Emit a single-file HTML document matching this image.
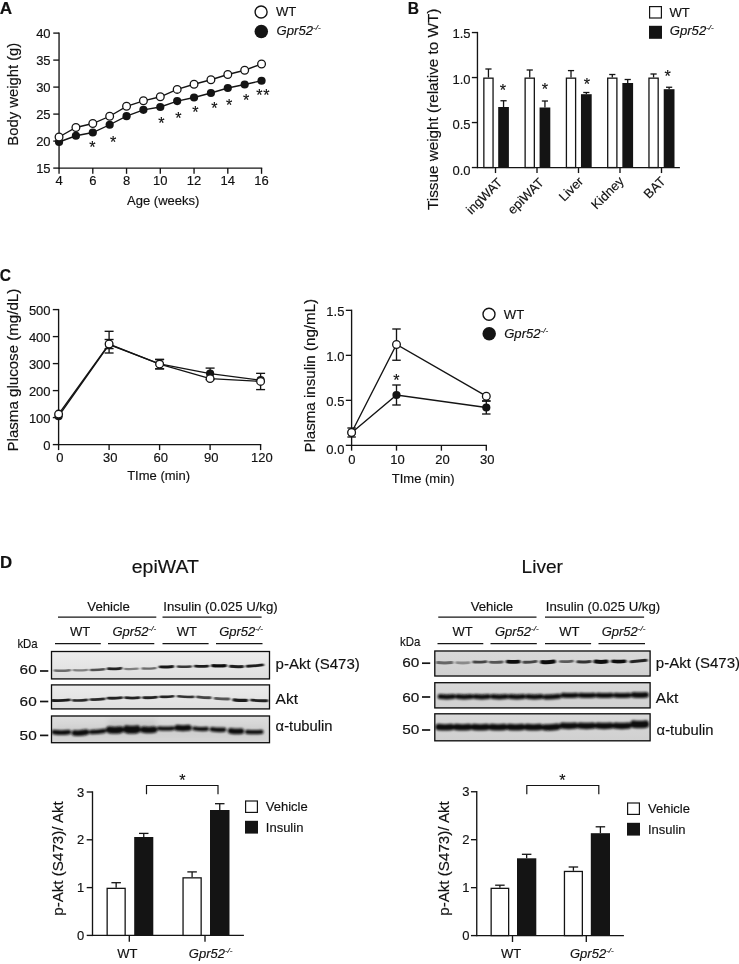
<!DOCTYPE html>
<html lang="en"><head><meta charset="utf-8"><title>Figure</title>
<style>
html,body{margin:0;padding:0;background:#fff;}
body{width:739px;height:964px;overflow:hidden;}
svg{display:block;}
svg text{font-family:"Liberation Sans",Arial,Helvetica,sans-serif;fill:#111;stroke:#111;stroke-width:0.16px;}
</style></head><body>
<svg width="739" height="964" viewBox="0 0 739 964">
<defs>
<filter id="b1" x="-20%" y="-200%" width="140%" height="500%"><feGaussianBlur stdDeviation="1.0 0.75"/></filter>
<filter id="b2" x="-20%" y="-200%" width="140%" height="500%"><feGaussianBlur stdDeviation="1.2 1.0"/></filter>
<filter id="b3" x="-20%" y="-200%" width="140%" height="500%"><feGaussianBlur stdDeviation="2.5 3"/></filter>
<linearGradient id="gE" x1="0" y1="0" x2="0" y2="1"><stop offset="0" stop-color="#ececec"/><stop offset="1" stop-color="#dedede"/></linearGradient>
<linearGradient id="gE3" x1="0" y1="0" x2="0" y2="1"><stop offset="0" stop-color="#dcdcdc"/><stop offset="1" stop-color="#d6d6d6"/></linearGradient>
<linearGradient id="gL" x1="0" y1="0" x2="0" y2="1"><stop offset="0" stop-color="#d9d9d9"/><stop offset="1" stop-color="#d0d0d0"/></linearGradient>
</defs>
<rect width="739" height="964" fill="#fff"/>

<text transform="translate(-0.3,13.5) scale(1.1,1)" font-size="15.6" font-weight="bold">A</text>
<text transform="translate(407.7,13.5) scale(1.0,1)" font-size="15.6" font-weight="bold">B</text>
<text transform="translate(-0.2,280.6) scale(1.0,1)" font-size="15.6" font-weight="bold">C</text>
<text transform="translate(-0.1,567.8) scale(1.08,1)" font-size="15.6" font-weight="bold">D</text>
<g id="panelA">
<line x1="59.05" y1="32.42" x2="59.05" y2="168.78" stroke="#141414" stroke-width="1.35" />
<line x1="59.05" y1="168.10" x2="262.23" y2="168.10" stroke="#141414" stroke-width="1.35" />
<line x1="53.25" y1="168.10" x2="59.05" y2="168.10" stroke="#141414" stroke-width="1.35" />
<text x="50.60" y="173.10" font-size="13.0" text-anchor="end" font-weight="normal" font-style="normal" >15</text>
<line x1="53.25" y1="141.10" x2="59.05" y2="141.10" stroke="#141414" stroke-width="1.35" />
<text x="50.60" y="146.10" font-size="13.0" text-anchor="end" font-weight="normal" font-style="normal" >20</text>
<line x1="53.25" y1="114.10" x2="59.05" y2="114.10" stroke="#141414" stroke-width="1.35" />
<text x="50.60" y="119.10" font-size="13.0" text-anchor="end" font-weight="normal" font-style="normal" >25</text>
<line x1="53.25" y1="87.10" x2="59.05" y2="87.10" stroke="#141414" stroke-width="1.35" />
<text x="50.60" y="92.10" font-size="13.0" text-anchor="end" font-weight="normal" font-style="normal" >30</text>
<line x1="53.25" y1="60.10" x2="59.05" y2="60.10" stroke="#141414" stroke-width="1.35" />
<text x="50.60" y="65.10" font-size="13.0" text-anchor="end" font-weight="normal" font-style="normal" >35</text>
<line x1="53.25" y1="33.10" x2="59.05" y2="33.10" stroke="#141414" stroke-width="1.35" />
<text x="50.60" y="38.10" font-size="13.0" text-anchor="end" font-weight="normal" font-style="normal" >40</text>
<line x1="59.05" y1="168.10" x2="59.05" y2="173.80" stroke="#141414" stroke-width="1.35" />
<text x="59.05" y="185.30" font-size="13.0" text-anchor="middle" font-weight="normal" font-style="normal" >4</text>
<line x1="92.80" y1="168.10" x2="92.80" y2="173.80" stroke="#141414" stroke-width="1.35" />
<text x="92.80" y="185.30" font-size="13.0" text-anchor="middle" font-weight="normal" font-style="normal" >6</text>
<line x1="126.55" y1="168.10" x2="126.55" y2="173.80" stroke="#141414" stroke-width="1.35" />
<text x="126.55" y="185.30" font-size="13.0" text-anchor="middle" font-weight="normal" font-style="normal" >8</text>
<line x1="160.30" y1="168.10" x2="160.30" y2="173.80" stroke="#141414" stroke-width="1.35" />
<text x="160.30" y="185.30" font-size="13.0" text-anchor="middle" font-weight="normal" font-style="normal" >10</text>
<line x1="194.05" y1="168.10" x2="194.05" y2="173.80" stroke="#141414" stroke-width="1.35" />
<text x="194.05" y="185.30" font-size="13.0" text-anchor="middle" font-weight="normal" font-style="normal" >12</text>
<line x1="227.80" y1="168.10" x2="227.80" y2="173.80" stroke="#141414" stroke-width="1.35" />
<text x="227.80" y="185.30" font-size="13.0" text-anchor="middle" font-weight="normal" font-style="normal" >14</text>
<line x1="261.55" y1="168.10" x2="261.55" y2="173.80" stroke="#141414" stroke-width="1.35" />
<text x="261.55" y="185.30" font-size="13.0" text-anchor="middle" font-weight="normal" font-style="normal" >16</text>
<text x="163.20" y="205.00" font-size="13" text-anchor="middle" font-weight="normal" font-style="normal" >Age (weeks)</text>
<text transform="translate(18.20,94.20) rotate(-90)" font-size="14.8" text-anchor="middle" textLength="102.9" lengthAdjust="spacingAndGlyphs">Body weight (g)</text>
<polyline points="59.05,142.00 75.92,135.75 92.80,132.50 109.67,124.75 126.55,116.20 143.43,109.80 160.30,107.00 177.18,101.10 194.05,97.50 210.93,93.00 227.80,88.00 244.68,84.50 261.55,80.75" fill="none" stroke="#141414" stroke-width="1.35"/>
<circle cx="59.05" cy="142.00" r="4.1" fill="#141414"/>
<circle cx="75.92" cy="135.75" r="4.1" fill="#141414"/>
<circle cx="92.80" cy="132.50" r="4.1" fill="#141414"/>
<circle cx="109.67" cy="124.75" r="4.1" fill="#141414"/>
<circle cx="126.55" cy="116.20" r="4.1" fill="#141414"/>
<circle cx="143.43" cy="109.80" r="4.1" fill="#141414"/>
<circle cx="160.30" cy="107.00" r="4.1" fill="#141414"/>
<circle cx="177.18" cy="101.10" r="4.1" fill="#141414"/>
<circle cx="194.05" cy="97.50" r="4.1" fill="#141414"/>
<circle cx="210.93" cy="93.00" r="4.1" fill="#141414"/>
<circle cx="227.80" cy="88.00" r="4.1" fill="#141414"/>
<circle cx="244.68" cy="84.50" r="4.1" fill="#141414"/>
<circle cx="261.55" cy="80.75" r="4.1" fill="#141414"/>
<polyline points="59.05,137.00 75.92,127.50 92.80,123.50 109.67,116.25 126.55,106.30 143.43,100.80 160.30,96.75 177.18,89.40 194.05,84.25 210.93,79.75 227.80,74.50 244.68,70.25 261.55,64.00" fill="none" stroke="#141414" stroke-width="1.35"/>
<circle cx="59.05" cy="137.00" r="3.85" fill="#fff" stroke="#141414" stroke-width="1.3"/>
<circle cx="75.92" cy="127.50" r="3.85" fill="#fff" stroke="#141414" stroke-width="1.3"/>
<circle cx="92.80" cy="123.50" r="3.85" fill="#fff" stroke="#141414" stroke-width="1.3"/>
<circle cx="109.67" cy="116.25" r="3.85" fill="#fff" stroke="#141414" stroke-width="1.3"/>
<circle cx="126.55" cy="106.30" r="3.85" fill="#fff" stroke="#141414" stroke-width="1.3"/>
<circle cx="143.43" cy="100.80" r="3.85" fill="#fff" stroke="#141414" stroke-width="1.3"/>
<circle cx="160.30" cy="96.75" r="3.85" fill="#fff" stroke="#141414" stroke-width="1.3"/>
<circle cx="177.18" cy="89.40" r="3.85" fill="#fff" stroke="#141414" stroke-width="1.3"/>
<circle cx="194.05" cy="84.25" r="3.85" fill="#fff" stroke="#141414" stroke-width="1.3"/>
<circle cx="210.93" cy="79.75" r="3.85" fill="#fff" stroke="#141414" stroke-width="1.3"/>
<circle cx="227.80" cy="74.50" r="3.85" fill="#fff" stroke="#141414" stroke-width="1.3"/>
<circle cx="244.68" cy="70.25" r="3.85" fill="#fff" stroke="#141414" stroke-width="1.3"/>
<circle cx="261.55" cy="64.00" r="3.85" fill="#fff" stroke="#141414" stroke-width="1.3"/>
<text x="92.30" y="152.90" font-size="16.2" text-anchor="middle" stroke="#111" stroke-width="0.25">*</text>
<text x="113.10" y="147.90" font-size="16.2" text-anchor="middle" stroke="#111" stroke-width="0.25">*</text>
<text x="161.40" y="129.30" font-size="16.2" text-anchor="middle" stroke="#111" stroke-width="0.25">*</text>
<text x="178.40" y="123.80" font-size="16.2" text-anchor="middle" stroke="#111" stroke-width="0.25">*</text>
<text x="195.30" y="117.80" font-size="16.2" text-anchor="middle" stroke="#111" stroke-width="0.25">*</text>
<text x="214.40" y="114.10" font-size="16.2" text-anchor="middle" stroke="#111" stroke-width="0.25">*</text>
<text x="229.20" y="110.50" font-size="16.2" text-anchor="middle" stroke="#111" stroke-width="0.25">*</text>
<text x="246.20" y="106.10" font-size="16.2" text-anchor="middle" stroke="#111" stroke-width="0.25">*</text>
<text x="259.40" y="100.90" font-size="16.2" text-anchor="middle" stroke="#111" stroke-width="0.25">*</text>
<text x="266.50" y="100.90" font-size="16.2" text-anchor="middle" stroke="#111" stroke-width="0.25">*</text>
<circle cx="261.10" cy="12.00" r="6.0" fill="#fff" stroke="#141414" stroke-width="1.4"/>
<circle cx="261.30" cy="31.50" r="6.75" fill="#141414"/>
<text x="276.00" y="16.30" font-size="13.1" text-anchor="start" font-weight="normal" font-style="normal" >WT</text>
<text x="276.60" y="34.80" font-size="13.1" text-anchor="start" font-style="italic" >Gpr52<tspan font-size="8" dy="-4.8">-/-</tspan></text>
</g>
<g id="panelB">
<line x1="477.45" y1="31.88" x2="477.45" y2="168.23" stroke="#141414" stroke-width="1.35" />
<line x1="477.45" y1="167.55" x2="679.90" y2="167.55" stroke="#141414" stroke-width="1.35" />
<line x1="471.85" y1="167.55" x2="477.45" y2="167.55" stroke="#141414" stroke-width="1.35" />
<text x="470.50" y="175.15" font-size="13.0" text-anchor="end" font-weight="normal" font-style="normal" >0.0</text>
<line x1="471.85" y1="122.55" x2="477.45" y2="122.55" stroke="#141414" stroke-width="1.35" />
<text x="470.50" y="128.65" font-size="13.0" text-anchor="end" font-weight="normal" font-style="normal" >0.5</text>
<line x1="471.85" y1="77.55" x2="477.45" y2="77.55" stroke="#141414" stroke-width="1.35" />
<text x="470.50" y="83.65" font-size="13.0" text-anchor="end" font-weight="normal" font-style="normal" >1.0</text>
<line x1="471.85" y1="32.55" x2="477.45" y2="32.55" stroke="#141414" stroke-width="1.35" />
<text x="470.50" y="38.15" font-size="13.0" text-anchor="end" font-weight="normal" font-style="normal" >1.5</text>
<text transform="translate(438.30,109.30) rotate(-90)" font-size="15.2" text-anchor="middle" textLength="201.4" lengthAdjust="spacingAndGlyphs">Tissue weight (relative to WT)</text>
<line x1="488.45" y1="69.00" x2="488.45" y2="77.50" stroke="#141414" stroke-width="1.3" />
<line x1="485.35" y1="69.00" x2="491.55" y2="69.00" stroke="#141414" stroke-width="1.3" />
<rect x="483.85" y="78.15" width="9.20" height="89.40" fill="#fff" stroke="#141414" stroke-width="1.3"/>
<line x1="503.55" y1="100.75" x2="503.55" y2="107.00" stroke="#141414" stroke-width="1.3" />
<line x1="500.45" y1="100.75" x2="506.65" y2="100.75" stroke="#141414" stroke-width="1.3" />
<rect x="498.20" y="107.00" width="10.70" height="60.55" fill="#141414"/>
<line x1="495.50" y1="167.55" x2="495.50" y2="173.05" stroke="#141414" stroke-width="1.35" />
<text transform="translate(503.10,183.35) rotate(-45)" font-size="13.0" text-anchor="end">ingWAT</text>
<text x="502.80" y="96.30" font-size="16.2" text-anchor="middle" stroke="#111" stroke-width="0.25">*</text>
<line x1="529.73" y1="70.00" x2="529.73" y2="77.50" stroke="#141414" stroke-width="1.3" />
<line x1="526.63" y1="70.00" x2="532.83" y2="70.00" stroke="#141414" stroke-width="1.3" />
<rect x="525.13" y="78.15" width="9.20" height="89.40" fill="#fff" stroke="#141414" stroke-width="1.3"/>
<line x1="544.94" y1="101.00" x2="544.94" y2="107.50" stroke="#141414" stroke-width="1.3" />
<line x1="541.84" y1="101.00" x2="548.04" y2="101.00" stroke="#141414" stroke-width="1.3" />
<rect x="539.58" y="107.50" width="10.72" height="60.05" fill="#141414"/>
<line x1="537.00" y1="167.55" x2="537.00" y2="173.05" stroke="#141414" stroke-width="1.35" />
<text transform="translate(544.60,183.35) rotate(-45)" font-size="13.0" text-anchor="end">epiWAT</text>
<text x="545.00" y="95.10" font-size="16.2" text-anchor="middle" stroke="#111" stroke-width="0.25">*</text>
<line x1="571.01" y1="70.60" x2="571.01" y2="77.50" stroke="#141414" stroke-width="1.3" />
<line x1="567.91" y1="70.60" x2="574.11" y2="70.60" stroke="#141414" stroke-width="1.3" />
<rect x="566.41" y="78.15" width="9.20" height="89.40" fill="#fff" stroke="#141414" stroke-width="1.3"/>
<line x1="586.33" y1="92.50" x2="586.33" y2="94.20" stroke="#141414" stroke-width="1.3" />
<line x1="583.23" y1="92.50" x2="589.43" y2="92.50" stroke="#141414" stroke-width="1.3" />
<rect x="580.96" y="94.20" width="10.74" height="73.35" fill="#141414"/>
<line x1="578.50" y1="167.55" x2="578.50" y2="173.05" stroke="#141414" stroke-width="1.35" />
<text transform="translate(584.10,182.15) rotate(-45)" font-size="13.0" text-anchor="end">Liver</text>
<text x="586.80" y="90.30" font-size="16.2" text-anchor="middle" stroke="#111" stroke-width="0.25">*</text>
<line x1="612.29" y1="74.50" x2="612.29" y2="77.50" stroke="#141414" stroke-width="1.3" />
<line x1="609.19" y1="74.50" x2="615.39" y2="74.50" stroke="#141414" stroke-width="1.3" />
<rect x="607.69" y="78.15" width="9.20" height="89.40" fill="#fff" stroke="#141414" stroke-width="1.3"/>
<line x1="627.72" y1="79.50" x2="627.72" y2="83.00" stroke="#141414" stroke-width="1.3" />
<line x1="624.62" y1="79.50" x2="630.82" y2="79.50" stroke="#141414" stroke-width="1.3" />
<rect x="622.34" y="83.00" width="10.76" height="84.55" fill="#141414"/>
<line x1="620.00" y1="167.55" x2="620.00" y2="173.05" stroke="#141414" stroke-width="1.35" />
<text transform="translate(624.60,181.95) rotate(-45)" font-size="13.0" text-anchor="end">Kidney</text>
<line x1="653.57" y1="74.00" x2="653.57" y2="77.50" stroke="#141414" stroke-width="1.3" />
<line x1="650.47" y1="74.00" x2="656.67" y2="74.00" stroke="#141414" stroke-width="1.3" />
<rect x="648.97" y="78.15" width="9.20" height="89.40" fill="#fff" stroke="#141414" stroke-width="1.3"/>
<line x1="669.11" y1="87.25" x2="669.11" y2="89.20" stroke="#141414" stroke-width="1.3" />
<line x1="666.01" y1="87.25" x2="672.21" y2="87.25" stroke="#141414" stroke-width="1.3" />
<rect x="663.72" y="89.20" width="10.78" height="78.35" fill="#141414"/>
<line x1="661.50" y1="167.55" x2="661.50" y2="173.05" stroke="#141414" stroke-width="1.35" />
<text transform="translate(666.30,182.15) rotate(-45)" font-size="13.0" text-anchor="end">BAT</text>
<text x="667.60" y="82.30" font-size="16.2" text-anchor="middle" stroke="#111" stroke-width="0.25">*</text>
<rect x="649.6" y="6.6" width="11.8" height="11.4" fill="#fff" stroke="#141414" stroke-width="1.2"/>
<rect x="649" y="25.8" width="13" height="13" fill="#141414"/>
<text x="669.40" y="16.50" font-size="13.1" text-anchor="start" font-weight="normal" font-style="normal" >WT</text>
<text x="669.80" y="34.70" font-size="13.1" text-anchor="start" font-style="italic" >Gpr52<tspan font-size="8" dy="-4.8">-/-</tspan></text>
</g>
<g id="panelC1">
<line x1="58.60" y1="308.93" x2="58.60" y2="445.28" stroke="#141414" stroke-width="1.35" />
<line x1="58.60" y1="444.60" x2="261.28" y2="444.60" stroke="#141414" stroke-width="1.35" />
<line x1="52.80" y1="444.60" x2="58.60" y2="444.60" stroke="#141414" stroke-width="1.35" />
<text x="50.60" y="449.70" font-size="13.0" text-anchor="end" font-weight="normal" font-style="normal" >0</text>
<line x1="52.80" y1="417.60" x2="58.60" y2="417.60" stroke="#141414" stroke-width="1.35" />
<text x="50.60" y="422.70" font-size="13.0" text-anchor="end" font-weight="normal" font-style="normal" >100</text>
<line x1="52.80" y1="390.60" x2="58.60" y2="390.60" stroke="#141414" stroke-width="1.35" />
<text x="50.60" y="395.70" font-size="13.0" text-anchor="end" font-weight="normal" font-style="normal" >200</text>
<line x1="52.80" y1="363.60" x2="58.60" y2="363.60" stroke="#141414" stroke-width="1.35" />
<text x="50.60" y="368.70" font-size="13.0" text-anchor="end" font-weight="normal" font-style="normal" >300</text>
<line x1="52.80" y1="336.60" x2="58.60" y2="336.60" stroke="#141414" stroke-width="1.35" />
<text x="50.60" y="341.70" font-size="13.0" text-anchor="end" font-weight="normal" font-style="normal" >400</text>
<line x1="52.80" y1="309.60" x2="58.60" y2="309.60" stroke="#141414" stroke-width="1.35" />
<text x="50.60" y="314.70" font-size="13.0" text-anchor="end" font-weight="normal" font-style="normal" >500</text>
<line x1="58.60" y1="444.60" x2="58.60" y2="450.10" stroke="#141414" stroke-width="1.35" />
<text x="59.80" y="462.00" font-size="13.0" text-anchor="middle" font-weight="normal" font-style="normal" >0</text>
<line x1="109.10" y1="444.60" x2="109.10" y2="450.10" stroke="#141414" stroke-width="1.35" />
<text x="110.30" y="462.00" font-size="13.0" text-anchor="middle" font-weight="normal" font-style="normal" >30</text>
<line x1="159.60" y1="444.60" x2="159.60" y2="450.10" stroke="#141414" stroke-width="1.35" />
<text x="160.80" y="462.00" font-size="13.0" text-anchor="middle" font-weight="normal" font-style="normal" >60</text>
<line x1="210.10" y1="444.60" x2="210.10" y2="450.10" stroke="#141414" stroke-width="1.35" />
<text x="211.30" y="462.00" font-size="13.0" text-anchor="middle" font-weight="normal" font-style="normal" >90</text>
<line x1="260.60" y1="444.60" x2="260.60" y2="450.10" stroke="#141414" stroke-width="1.35" />
<text x="261.80" y="462.00" font-size="13.0" text-anchor="middle" font-weight="normal" font-style="normal" >120</text>
<text x="158.60" y="480.00" font-size="13" text-anchor="middle" font-weight="normal" font-style="normal" >TIme (min)</text>
<text transform="translate(18.10,370.15) rotate(-90)" font-size="15.3" text-anchor="middle" textLength="162.7" lengthAdjust="spacingAndGlyphs">Plasma glucose (mg/dL)</text>
<g transform="translate(0,0.6)">
<line x1="109.10" y1="338.90" x2="109.10" y2="348.00" stroke="#141414" stroke-width="1.35" />
<line x1="104.60" y1="338.90" x2="113.60" y2="338.90" stroke="#141414" stroke-width="1.35" />
<line x1="104.60" y1="348.00" x2="113.60" y2="348.00" stroke="#141414" stroke-width="1.35" />
<line x1="159.60" y1="359.00" x2="159.60" y2="368.20" stroke="#141414" stroke-width="1.35" />
<line x1="155.10" y1="359.00" x2="164.10" y2="359.00" stroke="#141414" stroke-width="1.35" />
<line x1="155.10" y1="368.20" x2="164.10" y2="368.20" stroke="#141414" stroke-width="1.35" />
<line x1="210.10" y1="367.50" x2="210.10" y2="379.00" stroke="#141414" stroke-width="1.35" />
<line x1="205.60" y1="367.50" x2="214.60" y2="367.50" stroke="#141414" stroke-width="1.35" />
<line x1="205.60" y1="379.00" x2="214.60" y2="379.00" stroke="#141414" stroke-width="1.35" />
<polyline points="58.60,415.60 109.10,344.00 159.60,363.20 210.10,373.00 260.60,379.60" fill="none" stroke="#141414" stroke-width="1.35"/>
<circle cx="58.60" cy="415.60" r="4.1" fill="#141414"/>
<circle cx="109.10" cy="344.00" r="4.1" fill="#141414"/>
<circle cx="159.60" cy="363.20" r="4.1" fill="#141414"/>
<circle cx="210.10" cy="373.00" r="4.1" fill="#141414"/>
<circle cx="260.60" cy="379.60" r="4.1" fill="#141414"/>
<line x1="109.10" y1="330.70" x2="109.10" y2="352.40" stroke="#141414" stroke-width="1.35" />
<line x1="104.60" y1="330.70" x2="113.60" y2="330.70" stroke="#141414" stroke-width="1.35" />
<line x1="104.60" y1="352.40" x2="113.60" y2="352.40" stroke="#141414" stroke-width="1.35" />
<line x1="159.60" y1="358.75" x2="159.60" y2="368.25" stroke="#141414" stroke-width="1.35" />
<line x1="155.10" y1="358.75" x2="164.10" y2="358.75" stroke="#141414" stroke-width="1.35" />
<line x1="155.10" y1="368.25" x2="164.10" y2="368.25" stroke="#141414" stroke-width="1.35" />
<line x1="260.60" y1="372.75" x2="260.60" y2="389.00" stroke="#141414" stroke-width="1.35" />
<line x1="256.10" y1="372.75" x2="265.10" y2="372.75" stroke="#141414" stroke-width="1.35" />
<line x1="256.10" y1="389.00" x2="265.10" y2="389.00" stroke="#141414" stroke-width="1.35" />
<polyline points="58.60,413.50 109.10,343.40 159.60,363.50 210.10,378.00 260.60,380.80" fill="none" stroke="#141414" stroke-width="1.35"/>
<circle cx="58.60" cy="413.50" r="3.85" fill="#fff" stroke="#141414" stroke-width="1.3"/>
<circle cx="109.10" cy="343.40" r="3.85" fill="#fff" stroke="#141414" stroke-width="1.3"/>
<circle cx="159.60" cy="363.50" r="3.85" fill="#fff" stroke="#141414" stroke-width="1.3"/>
<circle cx="210.10" cy="378.00" r="3.85" fill="#fff" stroke="#141414" stroke-width="1.3"/>
<circle cx="260.60" cy="380.80" r="3.85" fill="#fff" stroke="#141414" stroke-width="1.3"/>
</g>
</g>
<g id="panelC2">
<line x1="351.60" y1="309.68" x2="351.60" y2="446.03" stroke="#141414" stroke-width="1.35" />
<line x1="351.60" y1="445.35" x2="486.98" y2="445.35" stroke="#141414" stroke-width="1.35" />
<line x1="345.80" y1="445.35" x2="351.60" y2="445.35" stroke="#141414" stroke-width="1.35" />
<text x="344.40" y="454.25" font-size="13.0" text-anchor="end" font-weight="normal" font-style="normal" >0.0</text>
<line x1="345.80" y1="400.35" x2="351.60" y2="400.35" stroke="#141414" stroke-width="1.35" />
<text x="344.40" y="406.15" font-size="13.0" text-anchor="end" font-weight="normal" font-style="normal" >0.5</text>
<line x1="345.80" y1="355.35" x2="351.60" y2="355.35" stroke="#141414" stroke-width="1.35" />
<text x="344.40" y="361.35" font-size="13.0" text-anchor="end" font-weight="normal" font-style="normal" >1.0</text>
<line x1="345.80" y1="310.35" x2="351.60" y2="310.35" stroke="#141414" stroke-width="1.35" />
<text x="344.40" y="315.95" font-size="13.0" text-anchor="end" font-weight="normal" font-style="normal" >1.5</text>
<line x1="351.60" y1="445.35" x2="351.60" y2="450.65" stroke="#141414" stroke-width="1.35" />
<text x="351.90" y="464.40" font-size="13.0" text-anchor="middle" font-weight="normal" font-style="normal" >0</text>
<line x1="396.50" y1="445.35" x2="396.50" y2="450.65" stroke="#141414" stroke-width="1.35" />
<text x="397.50" y="464.40" font-size="13.0" text-anchor="middle" font-weight="normal" font-style="normal" >10</text>
<line x1="441.40" y1="445.35" x2="441.40" y2="450.65" stroke="#141414" stroke-width="1.35" />
<text x="442.40" y="464.40" font-size="13.0" text-anchor="middle" font-weight="normal" font-style="normal" >20</text>
<line x1="486.30" y1="445.35" x2="486.30" y2="450.65" stroke="#141414" stroke-width="1.35" />
<text x="487.30" y="464.40" font-size="13.0" text-anchor="middle" font-weight="normal" font-style="normal" >30</text>
<text x="423.20" y="483.10" font-size="13" text-anchor="middle" font-weight="normal" font-style="normal" >TIme (min)</text>
<text transform="translate(315.00,375.80) rotate(-90)" font-size="15.3" text-anchor="middle" textLength="153.6" lengthAdjust="spacingAndGlyphs">Plasma insulin (ng/mL)</text>
<line x1="396.50" y1="385.00" x2="396.50" y2="405.00" stroke="#141414" stroke-width="1.35" />
<line x1="392.25" y1="385.00" x2="400.75" y2="385.00" stroke="#141414" stroke-width="1.35" />
<line x1="392.25" y1="405.00" x2="400.75" y2="405.00" stroke="#141414" stroke-width="1.35" />
<line x1="486.30" y1="401.00" x2="486.30" y2="414.00" stroke="#141414" stroke-width="1.35" />
<line x1="482.05" y1="401.00" x2="490.55" y2="401.00" stroke="#141414" stroke-width="1.35" />
<line x1="482.05" y1="414.00" x2="490.55" y2="414.00" stroke="#141414" stroke-width="1.35" />
<polyline points="351.60,432.80 396.50,395.00 486.30,407.50" fill="none" stroke="#141414" stroke-width="1.35"/>
<circle cx="351.60" cy="432.80" r="4.1" fill="#141414"/>
<circle cx="396.50" cy="395.00" r="4.1" fill="#141414"/>
<circle cx="486.30" cy="407.50" r="4.1" fill="#141414"/>
<line x1="351.60" y1="428.00" x2="351.60" y2="437.00" stroke="#141414" stroke-width="1.35" />
<line x1="347.35" y1="428.00" x2="355.85" y2="428.00" stroke="#141414" stroke-width="1.35" />
<line x1="347.35" y1="437.00" x2="355.85" y2="437.00" stroke="#141414" stroke-width="1.35" />
<line x1="396.50" y1="329.00" x2="396.50" y2="360.25" stroke="#141414" stroke-width="1.35" />
<line x1="392.25" y1="329.00" x2="400.75" y2="329.00" stroke="#141414" stroke-width="1.35" />
<line x1="392.25" y1="360.25" x2="400.75" y2="360.25" stroke="#141414" stroke-width="1.35" />
<line x1="486.30" y1="393.50" x2="486.30" y2="401.00" stroke="#141414" stroke-width="1.35" />
<line x1="482.05" y1="401.00" x2="490.55" y2="401.00" stroke="#141414" stroke-width="1.35" />
<polyline points="351.60,432.50 396.50,344.50 486.30,396.20" fill="none" stroke="#141414" stroke-width="1.35"/>
<circle cx="351.60" cy="432.50" r="3.85" fill="#fff" stroke="#141414" stroke-width="1.3"/>
<circle cx="396.50" cy="344.50" r="3.85" fill="#fff" stroke="#141414" stroke-width="1.3"/>
<circle cx="486.30" cy="396.20" r="3.85" fill="#fff" stroke="#141414" stroke-width="1.3"/>
<text x="396.40" y="385.50" font-size="16.2" text-anchor="middle" stroke="#111" stroke-width="0.25">*</text>
<circle cx="489.00" cy="314.30" r="6.0" fill="#fff" stroke="#141414" stroke-width="1.4"/>
<circle cx="489.20" cy="333.80" r="6.75" fill="#141414"/>
<text x="503.80" y="319.00" font-size="13.1" text-anchor="start" font-weight="normal" font-style="normal" >WT</text>
<text x="504.20" y="338.00" font-size="13.1" text-anchor="start" font-style="italic" >Gpr52<tspan font-size="8" dy="-4.8">-/-</tspan></text>
</g>
<g id="panelD1">
<text x="165.30" y="573.20" font-size="18.5" text-anchor="middle" font-weight="normal" font-style="normal" textLength="67.0" lengthAdjust="spacingAndGlyphs" >epiWAT</text>
<text x="108.60" y="611.40" font-size="13.2" text-anchor="middle" font-weight="normal" font-style="normal" >Vehicle</text>
<text x="220.50" y="611.40" font-size="13.1" text-anchor="middle" font-weight="normal" font-style="normal" textLength="114.4" lengthAdjust="spacingAndGlyphs" >Insulin (0.025 U/kg)</text>
<line x1="58.00" y1="617.10" x2="156.30" y2="617.10" stroke="#141414" stroke-width="1.3" />
<line x1="162.50" y1="617.10" x2="261.60" y2="617.10" stroke="#141414" stroke-width="1.3" />
<text x="80.20" y="635.90" font-size="13.0" text-anchor="middle" font-weight="normal" font-style="normal" >WT</text>
<text x="186.90" y="635.90" font-size="13.0" text-anchor="middle" font-weight="normal" font-style="normal" >WT</text>
<text x="112.40" y="635.90" font-size="13" text-anchor="start" font-style="italic" >Gpr52<tspan font-size="8" dy="-4.8">-/-</tspan></text>
<text x="219.20" y="635.90" font-size="13" text-anchor="start" font-style="italic" >Gpr52<tspan font-size="8" dy="-4.8">-/-</tspan></text>
<line x1="55.00" y1="643.60" x2="100.80" y2="643.60" stroke="#141414" stroke-width="1.3" />
<line x1="108.00" y1="643.60" x2="154.30" y2="643.60" stroke="#141414" stroke-width="1.3" />
<line x1="162.50" y1="643.60" x2="208.60" y2="643.60" stroke="#141414" stroke-width="1.3" />
<line x1="216.00" y1="643.60" x2="262.50" y2="643.60" stroke="#141414" stroke-width="1.3" />
<text transform="translate(17.4,647.9) scale(0.88,1)" font-size="13.0">kDa</text>
<clipPath id="cpe1"><rect x="51" y="651" width="219" height="28.399999999999977"/></clipPath>
<rect x="51" y="651" width="219" height="28.399999999999977" fill="url(#gE)"/>
<g clip-path="url(#cpe1)">
<g filter="url(#b1)" fill="none" stroke-linecap="round">
<path d="M54.8,670.43 Q62.3,671.30 69.8,670.17" stroke="#6c6c6c" stroke-width="2.5"/>
<path d="M73.8,670.12 Q80.5,670.80 87.2,669.88" stroke="#808080" stroke-width="2.4"/>
<path d="M91.0,669.94 Q97.6,670.20 104.2,669.26" stroke="#505050" stroke-width="2.5"/>
<path d="M108.2,668.72 Q114.6,669.10 121.0,668.28" stroke="#202020" stroke-width="2.8"/>
<path d="M125.0,668.91 Q131.3,669.40 137.7,668.69" stroke="#808080" stroke-width="2.3"/>
<path d="M142.6,668.52 Q149.0,668.90 155.4,668.08" stroke="#6c6c6c" stroke-width="2.4"/>
<path d="M160.0,666.92 Q166.4,667.30 172.7,666.48" stroke="#181818" stroke-width="2.9"/>
<path d="M177.9,666.61 Q184.3,667.10 190.8,666.39" stroke="#383838" stroke-width="2.5"/>
<path d="M195.4,666.10 Q201.6,666.70 207.8,666.10" stroke="#1c1c1c" stroke-width="2.9"/>
<path d="M212.7,665.60 Q219.0,666.20 225.3,665.60" stroke="#0e0e0e" stroke-width="3.4"/>
<path d="M230.5,666.30 Q236.5,667.00 242.5,666.50" stroke="#1c1c1c" stroke-width="3.0"/>
<path d="M247.1,666.28 Q254.8,666.00 262.6,664.92" stroke="#1c1c1c" stroke-width="2.9"/>
</g></g>
<rect x="51.5" y="651.5" width="218" height="27.399999999999977" fill="none" stroke="#0d0d0d" stroke-width="1.3"/>
<clipPath id="cpe2"><rect x="51" y="684.4" width="219" height="25.0"/></clipPath>
<rect x="51" y="684.4" width="219" height="25.0" fill="url(#gE)"/>
<g clip-path="url(#cpe2)">
<g filter="url(#b1)" fill="none" stroke-linecap="round">
<path d="M52.4,700.50 Q60.9,701.00 69.4,699.90" stroke="#1c1c1c" stroke-width="2.8"/>
<path d="M73.3,700.34 Q80.1,700.90 86.9,699.86" stroke="#2a2a2a" stroke-width="2.6"/>
<path d="M90.7,699.56 Q97.5,699.80 104.3,698.84" stroke="#2a2a2a" stroke-width="2.6"/>
<path d="M108.0,698.14 Q114.8,698.50 121.6,697.66" stroke="#222" stroke-width="2.8"/>
<path d="M125.6,697.70 Q132.4,698.50 139.2,697.70" stroke="#222" stroke-width="2.8"/>
<path d="M143.6,697.63 Q150.1,698.00 156.6,697.17" stroke="#222" stroke-width="2.8"/>
<path d="M160.5,696.72 Q166.9,697.10 173.3,696.28" stroke="#222" stroke-width="2.6"/>
<path d="M178.1,696.33 Q185.7,697.20 193.3,696.87" stroke="#333" stroke-width="2.6"/>
<path d="M197.5,696.86 Q203.8,697.70 210.2,697.74" stroke="#444" stroke-width="2.9"/>
<path d="M215.2,698.35 Q222.0,699.10 228.8,699.05" stroke="#545454" stroke-width="2.9"/>
<path d="M234.0,699.88 Q240.3,700.70 246.6,700.32" stroke="#1c1c1c" stroke-width="3.2"/>
<path d="M251.7,700.13 Q259.3,701.00 266.9,700.67" stroke="#222" stroke-width="3.0"/>
</g></g>
<rect x="51.5" y="684.9" width="218" height="24.0" fill="none" stroke="#0d0d0d" stroke-width="1.3"/>
<clipPath id="cpe3"><rect x="51" y="715.5" width="219" height="27.700000000000045"/></clipPath>
<rect x="51" y="715.5" width="219" height="27.700000000000045" fill="url(#gE3)"/>
<g clip-path="url(#cpe3)">
<g filter="url(#b3)">
<rect x="108" y="719.0" width="48" height="8" fill="#000" opacity="0.07"/>
<rect x="54" y="724.0" width="212" height="14" fill="#000" opacity="0.04"/>
</g>
<g filter="url(#b2)" fill="none" stroke-linecap="round">
<path d="M53.8,732.10 Q61.4,733.10 68.9,732.10" stroke="#111" stroke-width="4.6"/>
<path d="M74.5,732.81 Q80.4,733.50 86.3,732.19" stroke="#111" stroke-width="5.8"/>
<path d="M91.3,732.05 Q97.6,732.10 103.9,730.95" stroke="#111" stroke-width="4.6"/>
<path d="M109.3,729.70 Q114.8,730.70 120.3,729.70" stroke="#0c0c0c" stroke-width="7.0"/>
<path d="M127.0,729.30 Q131.9,730.30 136.8,729.30" stroke="#0a0a0a" stroke-width="8.0"/>
<path d="M143.5,729.50 Q148.8,730.50 154.1,729.50" stroke="#0c0c0c" stroke-width="6.6"/>
<path d="M159.1,728.30 Q165.9,728.90 172.7,728.30" stroke="#111" stroke-width="4.2"/>
<path d="M177.2,727.80 Q183.0,728.60 188.8,727.80" stroke="#0c0c0c" stroke-width="6.0"/>
<path d="M194.5,728.48 Q200.7,729.30 206.9,728.92" stroke="#111" stroke-width="4.2"/>
<path d="M211.9,729.29 Q218.0,730.10 224.1,729.71" stroke="#111" stroke-width="4.6"/>
<path d="M230.7,730.81 Q236.0,731.80 241.3,731.19" stroke="#111" stroke-width="5.8"/>
<path d="M247.1,731.90 Q254.3,732.50 261.5,731.90" stroke="#111" stroke-width="4.2"/>
</g></g>
<rect x="51.5" y="716.0" width="218" height="26.700000000000045" fill="none" stroke="#0d0d0d" stroke-width="1.3"/>
<text transform="translate(19.6,674.0) scale(1.2,1)" font-size="12.8" stroke="#111" stroke-width="0.2">60</text>
<line x1="40.00" y1="671.00" x2="48.30" y2="671.00" stroke="#141414" stroke-width="1.7" />
<text transform="translate(19.6,705.9) scale(1.2,1)" font-size="12.8" stroke="#111" stroke-width="0.2">60</text>
<line x1="40.00" y1="701.50" x2="48.30" y2="701.50" stroke="#141414" stroke-width="1.7" />
<text transform="translate(19.6,739.5) scale(1.2,1)" font-size="12.8" stroke="#111" stroke-width="0.2">50</text>
<line x1="40.00" y1="735.40" x2="48.30" y2="735.40" stroke="#141414" stroke-width="1.7" />
<text x="275.60" y="668.50" font-size="14.8" text-anchor="start" font-weight="normal" font-style="normal" textLength="84.2" lengthAdjust="spacingAndGlyphs" >p-Akt (S473)</text>
<text x="275.60" y="704.10" font-size="14.8" text-anchor="start" font-weight="normal" font-style="normal" textLength="22.4" lengthAdjust="spacingAndGlyphs" >Akt</text>
<text x="275.60" y="731.20" font-size="14.8" text-anchor="start" font-weight="normal" font-style="normal" textLength="57.0" lengthAdjust="spacingAndGlyphs" >&#945;-tubulin</text>
</g>
<g id="panelD2">
<text x="542.30" y="573.20" font-size="18.5" text-anchor="middle" font-weight="normal" font-style="normal" textLength="41.4" lengthAdjust="spacingAndGlyphs" >Liver</text>
<text x="491.90" y="611.40" font-size="13.2" text-anchor="middle" font-weight="normal" font-style="normal" >Vehicle</text>
<text x="603.00" y="611.40" font-size="13.1" text-anchor="middle" font-weight="normal" font-style="normal" textLength="114.4" lengthAdjust="spacingAndGlyphs" >Insulin (0.025 U/kg)</text>
<line x1="438.25" y1="617.10" x2="536.50" y2="617.10" stroke="#141414" stroke-width="1.3" />
<line x1="545.00" y1="617.10" x2="644.10" y2="617.10" stroke="#141414" stroke-width="1.3" />
<text x="462.70" y="635.90" font-size="13.0" text-anchor="middle" font-weight="normal" font-style="normal" >WT</text>
<text x="569.40" y="635.90" font-size="13.0" text-anchor="middle" font-weight="normal" font-style="normal" >WT</text>
<text x="494.90" y="635.90" font-size="13" text-anchor="start" font-style="italic" >Gpr52<tspan font-size="8" dy="-4.8">-/-</tspan></text>
<text x="601.70" y="635.90" font-size="13" text-anchor="start" font-style="italic" >Gpr52<tspan font-size="8" dy="-4.8">-/-</tspan></text>
<line x1="437.50" y1="643.60" x2="483.30" y2="643.60" stroke="#141414" stroke-width="1.3" />
<line x1="490.50" y1="643.60" x2="536.80" y2="643.60" stroke="#141414" stroke-width="1.3" />
<line x1="545.00" y1="643.60" x2="591.10" y2="643.60" stroke="#141414" stroke-width="1.3" />
<line x1="598.50" y1="643.60" x2="645.00" y2="643.60" stroke="#141414" stroke-width="1.3" />
<text transform="translate(400.0,646.3) scale(0.88,1)" font-size="13.0">kDa</text>
<clipPath id="cpl1"><rect x="434.3" y="650.5" width="216.3" height="26.0"/></clipPath>
<rect x="434.3" y="650.5" width="216.3" height="26.0" fill="url(#gL)"/>
<g clip-path="url(#cpl1)">
<g filter="url(#b1)" fill="none" stroke-linecap="round">
<path d="M437.5,662.60 Q444.6,663.40 451.8,662.60" stroke="#666" stroke-width="3.0"/>
<path d="M456.8,662.60 Q462.9,663.40 469.0,662.60" stroke="#8a8a8a" stroke-width="2.8"/>
<path d="M473.8,662.01 Q479.9,662.40 486.0,661.59" stroke="#444" stroke-width="2.8"/>
<path d="M490.2,662.20 Q496.2,662.70 502.2,662.00" stroke="#555" stroke-width="2.8"/>
<path d="M507.6,661.60 Q513.2,662.20 518.8,661.60" stroke="#111" stroke-width="3.6"/>
<path d="M523.8,662.23 Q530.0,662.40 536.2,661.37" stroke="#444" stroke-width="2.8"/>
<path d="M542.0,662.01 Q548.0,662.60 554.0,661.59" stroke="#0c0c0c" stroke-width="4.0"/>
<path d="M560.3,661.51 Q566.4,661.90 572.5,661.09" stroke="#5a5a5a" stroke-width="2.6"/>
<path d="M577.9,661.81 Q584.0,662.20 590.1,661.39" stroke="#333" stroke-width="3.0"/>
<path d="M595.4,661.60 Q601.0,662.40 606.6,661.60" stroke="#0e0e0e" stroke-width="4.0"/>
<path d="M612.8,661.30 Q618.8,661.90 624.8,661.30" stroke="#111" stroke-width="3.6"/>
<path d="M630.9,661.66 Q638.5,661.40 646.1,660.34" stroke="#222" stroke-width="3.0"/>
</g></g>
<rect x="434.8" y="651.0" width="215.3" height="25.0" fill="none" stroke="#0d0d0d" stroke-width="1.3"/>
<clipPath id="cpl2"><rect x="434.3" y="682.2" width="216.3" height="26.199999999999932"/></clipPath>
<rect x="434.3" y="682.2" width="216.3" height="26.199999999999932" fill="url(#gL)"/>
<g clip-path="url(#cpl2)">
<g filter="url(#b2)" fill="none" stroke-linecap="round">
<path d="M440.1,696.60 Q446.7,697.20 453.3,696.60" stroke="#0a0a0a" stroke-width="5.0"/>
<path d="M457.6,696.60 Q464.2,697.20 470.9,696.60" stroke="#0a0a0a" stroke-width="5.0"/>
<path d="M475.2,696.60 Q481.8,697.20 488.4,696.60" stroke="#0a0a0a" stroke-width="5.0"/>
<path d="M492.8,696.60 Q499.4,697.20 506.0,696.60" stroke="#0a0a0a" stroke-width="5.0"/>
<path d="M510.3,696.60 Q516.9,697.20 523.5,696.60" stroke="#0a0a0a" stroke-width="5.0"/>
<path d="M527.9,696.60 Q534.5,697.20 541.1,696.60" stroke="#0a0a0a" stroke-width="5.0"/>
<path d="M545.4,696.95 Q552.0,697.20 558.6,696.25" stroke="#0a0a0a" stroke-width="5.0"/>
<path d="M563.0,695.20 Q569.6,695.80 576.2,695.20" stroke="#0a0a0a" stroke-width="5.0"/>
<path d="M580.5,695.20 Q587.1,695.80 593.7,695.20" stroke="#0a0a0a" stroke-width="5.0"/>
<path d="M598.1,695.20 Q604.7,695.80 611.3,695.20" stroke="#0a0a0a" stroke-width="5.0"/>
<path d="M615.6,695.20 Q622.2,695.80 628.8,695.20" stroke="#0a0a0a" stroke-width="5.0"/>
<path d="M633.6,694.80 Q639.8,695.40 646.0,694.80" stroke="#0a0a0a" stroke-width="5.8"/>
</g></g>
<rect x="434.8" y="682.7" width="215.3" height="25.199999999999932" fill="none" stroke="#0d0d0d" stroke-width="1.3"/>
<clipPath id="cpl3"><rect x="434.3" y="713.3" width="216.3" height="28.0"/></clipPath>
<rect x="434.3" y="713.3" width="216.3" height="28.0" fill="url(#gL)"/>
<g clip-path="url(#cpl3)">
<g filter="url(#b2)" fill="none" stroke-linecap="round">
<path d="M438.6,727.05 Q444.9,727.75 451.2,727.05" stroke="#0a0a0a" stroke-width="6.4"/>
<path d="M456.3,727.05 Q462.6,727.75 468.9,727.05" stroke="#0a0a0a" stroke-width="6.4"/>
<path d="M474.0,727.05 Q480.3,727.75 486.6,727.05" stroke="#0a0a0a" stroke-width="6.4"/>
<path d="M491.7,727.05 Q498.0,727.75 504.3,727.05" stroke="#0a0a0a" stroke-width="6.4"/>
<path d="M509.4,727.05 Q515.7,727.75 522.0,727.05" stroke="#0a0a0a" stroke-width="6.4"/>
<path d="M527.1,727.05 Q533.4,727.75 539.7,727.05" stroke="#0a0a0a" stroke-width="6.4"/>
<path d="M544.8,727.38 Q551.1,727.75 557.4,726.72" stroke="#0a0a0a" stroke-width="6.4"/>
<path d="M562.5,725.65 Q568.8,726.35 575.1,725.65" stroke="#0a0a0a" stroke-width="6.4"/>
<path d="M580.2,725.65 Q586.5,726.35 592.8,725.65" stroke="#0a0a0a" stroke-width="6.4"/>
<path d="M597.9,725.65 Q604.2,726.35 610.5,725.65" stroke="#0a0a0a" stroke-width="6.4"/>
<path d="M615.6,725.65 Q621.9,726.35 628.2,725.65" stroke="#0a0a0a" stroke-width="6.4"/>
<path d="M633.9,724.15 Q639.6,724.85 645.3,724.15" stroke="#0a0a0a" stroke-width="7.6"/>
</g></g>
<rect x="434.8" y="713.8" width="215.3" height="27.0" fill="none" stroke="#0d0d0d" stroke-width="1.3"/>
<text transform="translate(402.2,666.5) scale(1.2,1)" font-size="12.8" stroke="#111" stroke-width="0.2">60</text>
<line x1="422.00" y1="663.20" x2="430.20" y2="663.20" stroke="#141414" stroke-width="1.7" />
<text transform="translate(402.2,701.5) scale(1.2,1)" font-size="12.8" stroke="#111" stroke-width="0.2">60</text>
<line x1="422.00" y1="697.00" x2="430.20" y2="697.00" stroke="#141414" stroke-width="1.7" />
<text transform="translate(402.2,734.0) scale(1.2,1)" font-size="12.8" stroke="#111" stroke-width="0.2">50</text>
<line x1="422.00" y1="730.00" x2="430.20" y2="730.00" stroke="#141414" stroke-width="1.7" />
<text x="655.80" y="668.30" font-size="14.8" text-anchor="start" font-weight="normal" font-style="normal" textLength="84.2" lengthAdjust="spacingAndGlyphs" >p-Akt (S473)</text>
<text x="655.80" y="703.40" font-size="14.8" text-anchor="start" font-weight="normal" font-style="normal" textLength="22.4" lengthAdjust="spacingAndGlyphs" >Akt</text>
<text x="656.60" y="735.20" font-size="14.8" text-anchor="start" font-weight="normal" font-style="normal" textLength="57.0" lengthAdjust="spacingAndGlyphs" >&#945;-tubulin</text>
</g>
<g id="barsD1">
<line x1="92.50" y1="791.33" x2="92.50" y2="936.07" stroke="#141414" stroke-width="1.35" />
<line x1="92.50" y1="935.40" x2="243.90" y2="935.40" stroke="#141414" stroke-width="1.35" />
<line x1="86.70" y1="935.40" x2="92.50" y2="935.40" stroke="#141414" stroke-width="1.35" />
<text x="84.30" y="940.00" font-size="13.0" text-anchor="end" font-weight="normal" font-style="normal" >0</text>
<line x1="86.70" y1="887.60" x2="92.50" y2="887.60" stroke="#141414" stroke-width="1.35" />
<text x="84.30" y="892.20" font-size="13.0" text-anchor="end" font-weight="normal" font-style="normal" >1</text>
<line x1="86.70" y1="839.80" x2="92.50" y2="839.80" stroke="#141414" stroke-width="1.35" />
<text x="84.30" y="844.40" font-size="13.0" text-anchor="end" font-weight="normal" font-style="normal" >2</text>
<line x1="86.70" y1="792.00" x2="92.50" y2="792.00" stroke="#141414" stroke-width="1.35" />
<text x="84.30" y="796.60" font-size="13.0" text-anchor="end" font-weight="normal" font-style="normal" >3</text>
<line x1="116.15" y1="882.70" x2="116.15" y2="887.70" stroke="#141414" stroke-width="1.3" />
<line x1="111.40" y1="882.70" x2="120.90" y2="882.70" stroke="#141414" stroke-width="1.3" />
<rect x="107.15" y="888.35" width="18.00" height="47.05" fill="#fff" stroke="#141414" stroke-width="1.3"/>
<line x1="143.75" y1="833.40" x2="143.75" y2="837.00" stroke="#141414" stroke-width="1.3" />
<line x1="139.00" y1="833.40" x2="148.50" y2="833.40" stroke="#141414" stroke-width="1.3" />
<rect x="134.20" y="837.00" width="19.10" height="98.40" fill="#141414"/>
<line x1="192.10" y1="871.90" x2="192.10" y2="877.20" stroke="#141414" stroke-width="1.3" />
<line x1="187.35" y1="871.90" x2="196.85" y2="871.90" stroke="#141414" stroke-width="1.3" />
<rect x="183.05" y="877.85" width="18.10" height="57.55" fill="#fff" stroke="#141414" stroke-width="1.3"/>
<line x1="219.75" y1="803.70" x2="219.75" y2="810.00" stroke="#141414" stroke-width="1.3" />
<line x1="215.00" y1="803.70" x2="224.50" y2="803.70" stroke="#141414" stroke-width="1.3" />
<rect x="210.00" y="810.00" width="19.50" height="125.40" fill="#141414"/>
<line x1="129.30" y1="935.40" x2="129.30" y2="941.80" stroke="#141414" stroke-width="1.35" />
<line x1="205.00" y1="935.40" x2="205.00" y2="941.80" stroke="#141414" stroke-width="1.35" />
<text x="127.30" y="957.80" font-size="13.0" text-anchor="middle" font-weight="normal" font-style="normal" >WT</text>
<text x="188.80" y="957.80" font-size="13" text-anchor="start" font-style="italic" >Gpr52<tspan font-size="8" dy="-4.8">-/-</tspan></text>
<text transform="translate(63.20,858.50) rotate(-90)" font-size="15.0" text-anchor="middle" textLength="114.6" lengthAdjust="spacingAndGlyphs">p-Akt (S473)/ Akt</text>
<polyline points="146.50,794.20 146.50,785.50 218.00,785.50 218.00,794.20" fill="none" stroke="#141414" stroke-width="1.2"/>
<text x="182.50" y="785.90" font-size="16.2" text-anchor="middle" stroke="#111" stroke-width="0.25">*</text>
<rect x="245.6" y="801.0" width="11.8" height="11.4" fill="#fff" stroke="#141414" stroke-width="1.2"/>
<rect x="245" y="820.8" width="13" height="12.8" fill="#141414"/>
<text x="265.80" y="811.20" font-size="13" text-anchor="start" font-weight="normal" font-style="normal" >Vehicle</text>
<text x="265.80" y="831.70" font-size="13" text-anchor="start" font-weight="normal" font-style="normal" >Insulin</text>
</g>
<g id="barsD2">
<line x1="476.75" y1="791.08" x2="476.75" y2="936.27" stroke="#141414" stroke-width="1.35" />
<line x1="476.75" y1="935.60" x2="623.90" y2="935.60" stroke="#141414" stroke-width="1.35" />
<line x1="470.95" y1="935.60" x2="476.75" y2="935.60" stroke="#141414" stroke-width="1.35" />
<text x="469.55" y="940.20" font-size="13.0" text-anchor="end" font-weight="normal" font-style="normal" >0</text>
<line x1="470.95" y1="887.65" x2="476.75" y2="887.65" stroke="#141414" stroke-width="1.35" />
<text x="469.55" y="892.25" font-size="13.0" text-anchor="end" font-weight="normal" font-style="normal" >1</text>
<line x1="470.95" y1="839.70" x2="476.75" y2="839.70" stroke="#141414" stroke-width="1.35" />
<text x="469.55" y="844.30" font-size="13.0" text-anchor="end" font-weight="normal" font-style="normal" >2</text>
<line x1="470.95" y1="791.75" x2="476.75" y2="791.75" stroke="#141414" stroke-width="1.35" />
<text x="469.55" y="796.35" font-size="13.0" text-anchor="end" font-weight="normal" font-style="normal" >3</text>
<line x1="499.90" y1="885.20" x2="499.90" y2="887.70" stroke="#141414" stroke-width="1.3" />
<line x1="495.15" y1="885.20" x2="504.65" y2="885.20" stroke="#141414" stroke-width="1.3" />
<rect x="491.15" y="888.35" width="17.50" height="47.25" fill="#fff" stroke="#141414" stroke-width="1.3"/>
<line x1="526.65" y1="854.30" x2="526.65" y2="858.30" stroke="#141414" stroke-width="1.3" />
<line x1="521.90" y1="854.30" x2="531.40" y2="854.30" stroke="#141414" stroke-width="1.3" />
<rect x="517.00" y="858.30" width="19.30" height="77.30" fill="#141414"/>
<line x1="573.40" y1="867.00" x2="573.40" y2="870.80" stroke="#141414" stroke-width="1.3" />
<line x1="568.65" y1="867.00" x2="578.15" y2="867.00" stroke="#141414" stroke-width="1.3" />
<rect x="564.45" y="871.45" width="17.90" height="64.15" fill="#fff" stroke="#141414" stroke-width="1.3"/>
<line x1="600.40" y1="826.80" x2="600.40" y2="833.20" stroke="#141414" stroke-width="1.3" />
<line x1="595.65" y1="826.80" x2="605.15" y2="826.80" stroke="#141414" stroke-width="1.3" />
<rect x="590.80" y="833.20" width="19.20" height="102.40" fill="#141414"/>
<line x1="512.50" y1="935.60" x2="512.50" y2="942.00" stroke="#141414" stroke-width="1.35" />
<line x1="586.30" y1="935.60" x2="586.30" y2="942.00" stroke="#141414" stroke-width="1.35" />
<text x="511.00" y="957.80" font-size="13.0" text-anchor="middle" font-weight="normal" font-style="normal" >WT</text>
<text x="570.00" y="957.80" font-size="13" text-anchor="start" font-style="italic" >Gpr52<tspan font-size="8" dy="-4.8">-/-</tspan></text>
<text transform="translate(448.60,858.50) rotate(-90)" font-size="15.0" text-anchor="middle" textLength="114.6" lengthAdjust="spacingAndGlyphs">p-Akt (S473)/ Akt</text>
<polyline points="526.80,794.20 526.80,785.50 598.80,785.50 598.80,794.20" fill="none" stroke="#141414" stroke-width="1.2"/>
<text x="562.50" y="785.90" font-size="16.2" text-anchor="middle" stroke="#111" stroke-width="0.25">*</text>
<rect x="627.6" y="803.0" width="11.8" height="11.4" fill="#fff" stroke="#141414" stroke-width="1.2"/>
<rect x="627" y="822.8" width="13" height="12.8" fill="#141414"/>
<text x="648.00" y="813.20" font-size="13" text-anchor="start" font-weight="normal" font-style="normal" >Vehicle</text>
<text x="648.00" y="833.70" font-size="13" text-anchor="start" font-weight="normal" font-style="normal" >Insulin</text>
</g>
</svg>
</body></html>
